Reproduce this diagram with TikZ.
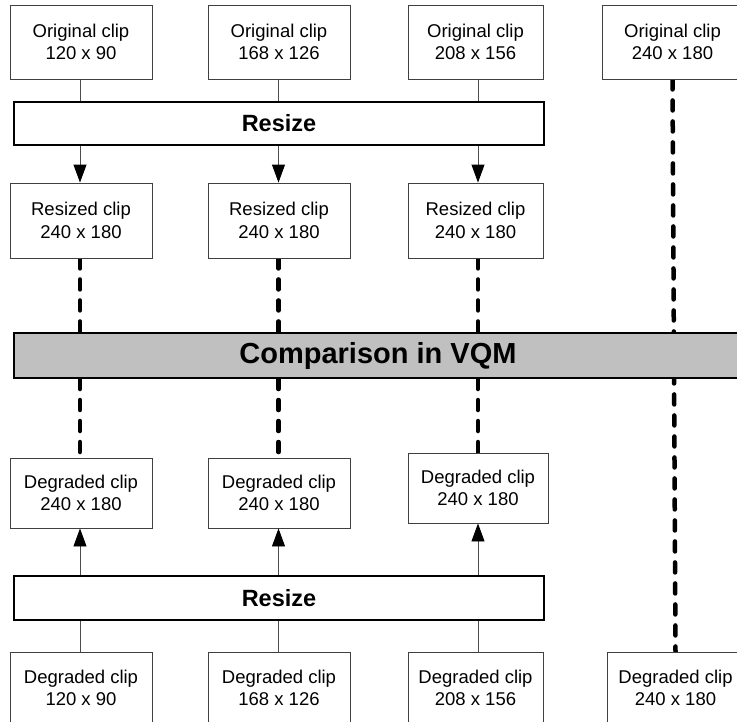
\documentclass[tikz,border=0pt]{standalone}
\usepackage{fontspec}
\setmainfont{Liberation Sans}
\usetikzlibrary{arrows.meta,backgrounds}
\definecolor{bargray}{HTML}{C0C0C0}
\begin{document}
\begin{tikzpicture}[x=1pt,y=-1pt,
 clipbox/.style={draw=black!75, line width=0.9pt, fill=white, inner sep=0pt, align=center, font=\fontsize{18.5}{22.5}\selectfont},
 barbox/.style={draw=black, line width=2pt, fill=white, inner sep=0pt, font=\bfseries\fontsize{23.5}{28}\selectfont},
 thinline/.style={draw=black!70, line width=0.9pt},
 arr/.style={thinline, -{Triangle[length=18pt,width=13pt,color=black,fill=black]}},
 dsh/.style={line width=4.5pt, line cap=round, dash pattern=on 10pt off 11pt}
]
\useasboundingbox (0,0) rectangle (737,721);
% column x positions
\coordinate (c1) at (80,0);
\coordinate (c2) at (278.5,0);
\coordinate (c3) at (478,0);
% top row
\node[clipbox, minimum width=142pt, minimum height=74pt] (o1) at (81,42) {Original clip\\120 x 90};
\node[clipbox, minimum width=142pt, minimum height=74pt] (o2) at (279,42) {Original clip\\168 x 126};
\node[clipbox, minimum width=135pt, minimum height=74pt] (o3) at (475.5,42) {Original clip\\208 x 156};
\node[clipbox, minimum width=141pt, minimum height=74pt] (o4) at (672.5,42) {Original clip\\240 x 180};
% upper resize
\node[barbox, minimum width=530pt, minimum height=43pt] (rz1) at (279,123.5) {Resize};
% resized clips
\node[clipbox, minimum width=142pt, minimum height=75pt] (rs1) at (81,220.5) {Resized clip\\240 x 180};
\node[clipbox, minimum width=142pt, minimum height=75pt] (rs2) at (279,220.5) {Resized clip\\240 x 180};
\node[clipbox, minimum width=135pt, minimum height=75pt] (rs3) at (475.5,220.5) {Resized clip\\240 x 180};
% comparison
\node[barbox, fill=bargray, minimum width=728pt, minimum height=45pt, font=\bfseries\fontsize{29}{34}\selectfont] (cmp) at (378,355.5) {Comparison in VQM};
% degraded resized
\node[clipbox, minimum width=142pt, minimum height=70pt] (d1) at (81,493) {Degraded clip\\240 x 180};
\node[clipbox, minimum width=142pt, minimum height=70pt] (d2) at (279,493) {Degraded clip\\240 x 180};
\node[clipbox, minimum width=140pt, minimum height=70pt] (d3) at (478,488) {Degraded clip\\240 x 180};
% lower resize
\node[barbox, minimum width=530pt, minimum height=44pt] (rz2) at (279,598) {Resize};
% bottom row
\node[clipbox, minimum width=142pt, minimum height=72pt] (b1) at (81,688) {Degraded clip\\120 x 90};
\node[clipbox, minimum width=142pt, minimum height=72pt] (b2) at (279,688) {Degraded clip\\168 x 126};
\node[clipbox, minimum width=135pt, minimum height=72pt] (b3) at (475.5,688) {Degraded clip\\208 x 156};
\node[clipbox, minimum width=137pt, minimum height=72pt] (b4) at (675.5,688) {Degraded clip\\240 x 180};
\begin{scope}[on background layer]
% top connectors
\draw[thinline] (o1.south -| c1) -- (rz1.north -| c1);
\draw[thinline] (o2.south -| c2) -- (rz1.north -| c2);
\draw[thinline] (o3.south -| c3) -- (rz1.north -| c3);
\draw[arr] (rz1.south -| c1) -- (rs1.north -| c1);
\draw[arr] (rz1.south -| c2) -- (rs2.north -| c2);
\draw[arr] (rz1.south -| c3) -- (rs3.north -| c3);
% dashed
\draw[dsh] (rs1.south -| c1) -- (cmp.north -| c1);
\draw[dsh] (rs2.south -| c2) -- (cmp.north -| c2);
\draw[dsh] (rs3.south -| c3) -- (cmp.north -| c3);
\draw[dsh] (cmp.south -| c1) -- (d1.north -| c1);
\draw[dsh] (cmp.south -| c2) -- (d2.north -| c2);
\draw[dsh] (cmp.south -| c3) -- (d3.north -| c3);
\draw[dsh] (o4.south) -- (b4.north);
% bottom connectors
\draw[thinline] (b1.north -| c1) -- (rz2.south -| c1);
\draw[thinline] (b2.north -| c2) -- (rz2.south -| c2);
\draw[thinline] (b3.north -| c3) -- (rz2.south -| c3);
\draw[arr] (rz2.north -| c1) -- (d1.south -| c1);
\draw[arr] (rz2.north -| c2) -- (d2.south -| c2);
\draw[arr] (rz2.north -| c3) -- (d3.south -| c3);
\end{scope}
\end{tikzpicture}
\end{document}
